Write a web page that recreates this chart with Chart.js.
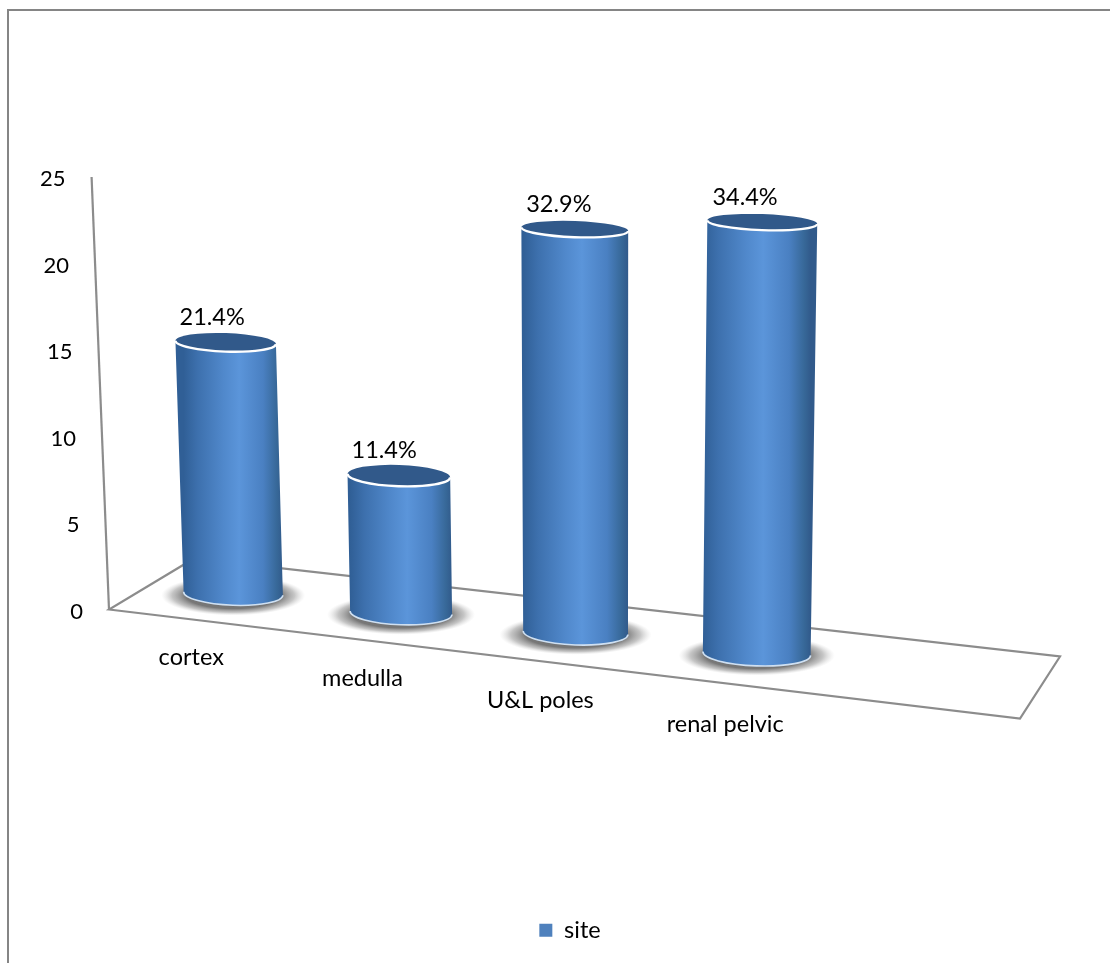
<!DOCTYPE html>
<html>
<head>
<meta charset="utf-8">
<title>site</title>
<script src="https://cdn.jsdelivr.net/npm/chart.js@4/dist/chart.umd.min.js"></script>
<style>
    html, body { margin: 0; padding: 0; background: #fff; }
    canvas { display: block; }
</style>
</head>
<body>
<canvas id="siteChart" width="1110" height="963"></canvas>
<script>
const categories = ['cortex', 'medulla', 'U&L poles', 'renal pelvic'];
const siteValues = [15, 8, 23, 24];
const percentLabels = ['21.4%', '11.4%', '32.9%', '34.4%'];
const yTicks = [0, 5, 10, 15, 20, 25];
const seriesName = 'site';

const fontName = 'Lato, Carlito, sans-serif';
const labelSize = 23.5;
const tickSize = 22;
const gridColor = '#8c8c8c';
const frameColor = '#858585';

// fake 3D: everything goes through these, input is the pixel the scales give
function bowX(x) {
    // columns are a bit closer together on the left
    const t = (x - 233) / 524;
    return x - 30 * t * (1 - t);
}
function leanAt(x, h) {
    return (x - 600) * 0.000082 * h;
}
function groundY(x, zero) {
    return zero - 16 + 0.1146 * (x - 233.5);
}
function unitScale(x) {
    return 0.936 + 0.000136 * x;
}
function ellipseRy(y) {
    return 8 + (y - 222) * 0.0103;
}

function drawFloor(ctx, area) {
    const ax = area.left - 37, ay = area.bottom;
    ctx.save();
    ctx.strokeStyle = gridColor;
    ctx.lineWidth = 2.2;
    ctx.lineJoin = 'miter';
    ctx.beginPath();
    ctx.moveTo(ax, ay);
    ctx.lineTo(ax + 911, ay + 109);
    ctx.lineTo(ax + 951, ay + 47);
    ctx.lineTo(ax + 85, ay - 51);
    ctx.closePath();
    ctx.stroke();
    // wall edge
    ctx.beginPath();
    ctx.moveTo(ax + leanAt(ax, ay - area.top), area.top);
    ctx.lineTo(ax, ay);
    ctx.stroke();
    ctx.restore();
}

function drawShadow(ctx, x, y, rx) {
    ctx.save();
    ctx.translate(x, y + 2);
    ctx.scale(rx * 1.45, 20);
    const g = ctx.createRadialGradient(0, 0, 0, 0, 0, 1);
    g.addColorStop(0, 'rgba(105,105,105,1)');
    g.addColorStop(0.66, 'rgba(112,112,112,0.95)');
    g.addColorStop(0.85, 'rgba(150,150,150,0.55)');
    g.addColorStop(1, 'rgba(200,200,200,0)');
    ctx.fillStyle = g;
    ctx.beginPath();
    ctx.arc(0, 0, 1, 0, Math.PI * 2);
    ctx.fill();
    ctx.restore();
}

function drawCylinder(ctx, el, zero, label) {
    const bx = bowX(el.x);
    const by = groundY(bx, zero);
    const h = (el.base - el.y) * unitScale(bx);
    const tx = bx + leanAt(bx, h);
    const ty = by - h;
    const rBase = el.width / 2 * (0.944 + 0.00016 * bx);
    const rTop = rBase + 0.0025 * h;
    const tilt = 0.035;
    const ryB = ellipseRy(by), ryT = ellipseRy(ty);

    drawShadow(ctx, bx, by, rBase);

    const side = ctx.createLinearGradient(bx - rBase, 0, bx + rBase, 0);
    side.addColorStop(0, '#305f96');
    side.addColorStop(0.14, '#3d70ad');
    side.addColorStop(0.4, '#5088cb');
    side.addColorStop(0.56, '#5b95da');
    side.addColorStop(0.8, '#4a80c2');
    side.addColorStop(0.94, '#376898');
    side.addColorStop(1, '#315a8b');

    ctx.save();
    ctx.beginPath();
    ctx.ellipse(tx, ty, rTop, ryT, tilt, Math.PI, 0, true);
    ctx.lineTo(bx + rBase * Math.cos(tilt), by + rBase * Math.sin(tilt));
    ctx.ellipse(bx, by, rBase, ryB, tilt, 0, Math.PI);
    ctx.closePath();
    ctx.fillStyle = side;
    ctx.fill();

    // pale rim along the foot
    ctx.strokeStyle = '#cfe0f2';
    ctx.lineWidth = 1.6;
    ctx.beginPath();
    ctx.ellipse(bx, by, rBase, ryB, tilt, 0, Math.PI);
    ctx.stroke();

    // lid
    ctx.fillStyle = '#31598a';
    ctx.beginPath();
    ctx.ellipse(tx, ty, rTop, ryT, tilt, 0, Math.PI * 2);
    ctx.fill();
    ctx.strokeStyle = '#ffffff';
    ctx.lineWidth = 2.4;
    ctx.beginPath();
    ctx.ellipse(tx, ty, rTop, ryT, tilt, 0, Math.PI);
    ctx.stroke();
    ctx.restore();

    ctx.save();
    ctx.font = labelSize + 'px ' + fontName;
    ctx.fillStyle = '#000';
    ctx.textAlign = 'center';
    ctx.textBaseline = 'middle';
    ctx.fillText(label, tx - 13.5 - 0.007 * (tx - 226), ty - 25);
    ctx.restore();
}

const cylinderPlugin = {
    id: 'cylinders',
    beforeDraw(chart) {
        const ctx = chart.ctx;
        const area = chart.chartArea;
        ctx.save();
        ctx.fillStyle = '#fff';
        ctx.fillRect(0, 0, chart.width, chart.height);
        ctx.strokeStyle = frameColor;
        ctx.lineWidth = 2;
        ctx.beginPath();
        ctx.moveTo(8, chart.height);
        ctx.lineTo(8, 10);
        ctx.lineTo(chart.width, 10);
        ctx.stroke();
        ctx.restore();
        drawFloor(ctx, area);

        // the axis labels lean with the walls
        const yScale = chart.scales.y;
        yScale.getLabelItems(area).forEach(function (item, i) {
            const py = yScale.getPixelForValue(yScale.ticks[i].value);
            item.options.translation = [area.left - 37 + leanAt(area.left - 37, area.bottom - py) - 26, py + 2];
        });
        const xScale = chart.scales.x;
        xScale.getLabelItems(area).forEach(function (item, i) {
            const bx = bowX(xScale.getPixelForTick(i));
            item.options.translation = [bx - 42 + 0.02 * (bx - 233.5), 657 + 0.128 * (bx - 233.5)];
            item.textOffset = 0;
            item.options.textBaseline = 'middle';
        });
    },
    beforeDatasetDraw(chart, args) {
        const zero = chart.scales.y.getPixelForValue(0);
        args.meta.data.forEach(function (el, i) {
            drawCylinder(chart.ctx, el, zero, percentLabels[i]);
        });
        return false;
    }
};

new Chart(document.getElementById('siteChart'), {
    type: 'bar',
    plugins: [cylinderPlugin],
    data: {
        labels: categories,
        datasets: [{
            label: seriesName,
            data: siteValues,
            backgroundColor: '#4f81bd',
            categoryPercentage: 1,
            barPercentage: 0.58
        }]
    },
    options: {
        responsive: false,
        animation: false,
        layout: {
            autoPadding: false,
            padding: { top: 177, left: 30, right: 0, bottom: 11 }
        },
        scales: {
            x: {
                grid: { display: false },
                border: { display: false },
                ticks: {
                    color: '#000',
                    maxRotation: 0,
                    autoSkip: false,
                    font: { family: fontName, size: labelSize }
                },
                afterFit(scale) { scale.height = 299; }
            },
            y: {
                min: 0,
                max: 25,
                grid: { display: false },
                border: { display: false },
                afterBuildTicks(scale) {
                    scale.ticks = yTicks.map(function (v) { return { value: v }; });
                },
                ticks: {
                    color: '#000',
                    font: { family: fontName, size: tickSize }
                },
                afterFit(scale) { scale.width = 116; }
            },
            spare: {
                // only holds the empty room on the right of the floor
                position: 'right',
                grid: { display: false },
                border: { display: false },
                ticks: { display: false },
                afterFit(scale) { scale.width = 266; }
            }
        },
        plugins: {
            legend: {
                position: 'bottom',
                labels: {
                    color: '#000',
                    boxWidth: 13,
                    boxHeight: 13,
                    padding: 10,
                    font: { family: fontName, size: labelSize }
                }
            },
            tooltip: { enabled: false }
        }
    }
});
</script>
</body>
</html>
